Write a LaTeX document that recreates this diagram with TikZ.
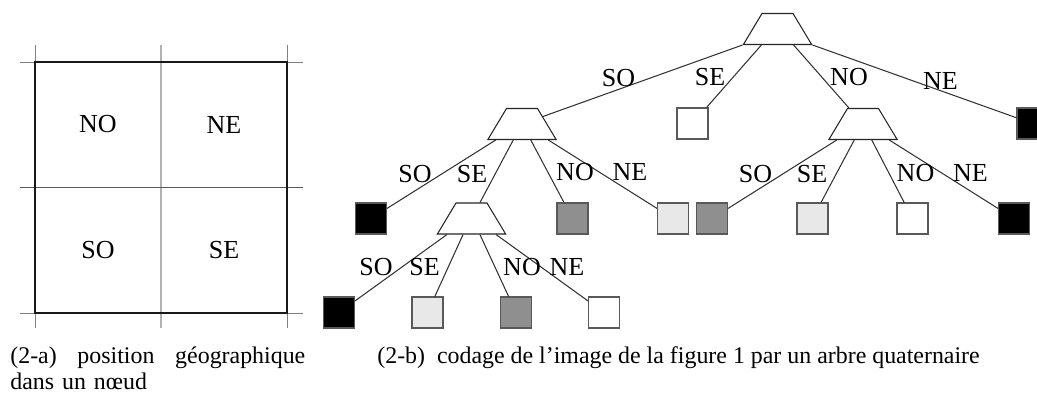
\documentclass[tikz,border=0pt]{standalone}
\usepackage{fontspec}
\setmainfont{Liberation Serif}
\usetikzlibrary{shapes.geometric, positioning, calc}

\definecolor{midgray}{HTML}{8F8F8F}
\definecolor{palegray}{HTML}{E8E8E8}

\begin{document}
\begin{tikzpicture}[x=0.02cm, y=-0.02cm]
		\tikzset{
			lab/.style={font=\fontsize{14.8}{17}\selectfont, inner sep=0pt},
			captxt/.style={font=\fontsize{13.6}{14.7}\selectfont, inner sep=0pt},
			edge/.style={draw=black!80, line width=0.6pt},
			trap/.style={trapezium, draw=black!85, fill=white, line width=0.6pt,
			trapezium left angle=59, trapezium right angle=59,
			minimum width=1.36cm, minimum height=0.62cm, inner sep=1pt},
			leaf/.style={rectangle, draw=black!65, line width=0.6pt, minimum size=0.62cm, inner sep=0pt},
			sqblack/.style={leaf, fill=black},
			sqgray/.style={leaf, fill=midgray},
			sqpale/.style={leaf, fill=palegray},
			sqwhite/.style={leaf, fill=white}
		}
		\useasboundingbox (0,0) rectangle (1037,394);

		% (2-a) quadrants of a node
		\draw[black!50, line width=0.5pt] (35,45) -- (35,328);
		\draw[black!30, line width=0.8pt] (161,45) -- (161,328);
		\draw[black!50, line width=0.5pt] (287,45) -- (287,328);
		\draw[black!50, line width=0.5pt] (20,62) -- (303,62);
		\draw[black!65, line width=0.5pt] (20,187) -- (303,187);
		\draw[black!50, line width=0.5pt] (20,313) -- (303,313);
		\draw[black!90, line width=0.6pt] (35,313) -- (35,62) -- (287,62) -- (287,313) -- cycle;
		\draw[black!90, line width=0.9pt] (35,62) -- (287,62);
		\node[lab](gNO) at (98,124.5){NO};
		\node[lab](gNE) at (224,124.5){NE};
		\node[lab](gSO) at (98,250){SO};
		\node[lab](gSE) at (224,250){SE};

		% (2-b) quadtree
		\node[trap](qRoot) at (777.5,29){};
		\node[trap](qSO) at (522,124){};
		\node[sqwhite](qSE) at (692.5,123.5){};
		\node[trap](qNO) at (863,124){};
		\node[sqblack](qNE) at (1032.5,123.5){};

		\node[sqblack](qSOSO) at (371,218.5){};
		\node[trap](qSOSE) at (471.5,218.5){};
		\node[sqgray](qSONO) at (572.5,218.5){};
		\node[sqpale](qSONE) at (673,218.5){};
		\node[sqgray, right=0.14cm of qSONE](qNOSO){};
		\node[sqpale](qNOSE) at (812.5,218.5){};
		\node[sqwhite](qNONO) at (912.5,218.5){};
		\node[sqblack](qNONE) at (1014,218.5){};

		\node[sqblack](qSESO) at (339,312.5){};
		\node[sqpale](qSESE) at (427.5,312.5){};
		\node[sqgray](qSENO) at (516,312.5){};
		\node[sqwhite](qSENE) at (604,312.5){};

		\draw[edge](qRoot.bottom left corner) -- (qSO);
		\draw[edge]($(qRoot.bottom left corner)!0.27!(qRoot.bottom right corner)$) -- (qSE);
		\draw[edge]($(qRoot.bottom left corner)!0.73!(qRoot.bottom right corner)$) -- (qNO);
		\draw[edge](qRoot.bottom right corner) -- (qNE);

		\draw[edge]($(qSO.bottom left corner)!0.125!(qSO.bottom right corner)$) -- (qSOSO);
		\draw[edge]($(qSO.bottom left corner)!0.375!(qSO.bottom right corner)$) -- (qSOSE);
		\draw[edge]($(qSO.bottom left corner)!0.625!(qSO.bottom right corner)$) -- (qSONO);
		\draw[edge]($(qSO.bottom left corner)!0.875!(qSO.bottom right corner)$) -- (qSONE);

		\draw[edge]($(qNO.bottom left corner)!0.125!(qNO.bottom right corner)$) -- (qNOSO);
		\draw[edge]($(qNO.bottom left corner)!0.375!(qNO.bottom right corner)$) -- (qNOSE);
		\draw[edge]($(qNO.bottom left corner)!0.625!(qNO.bottom right corner)$) -- (qNONO);
		\draw[edge]($(qNO.bottom left corner)!0.875!(qNO.bottom right corner)$) -- (qNONE);

		\draw[edge]($(qSOSE.bottom left corner)!0.15!(qSOSE.bottom right corner)$) -- (qSESO);
		\draw[edge]($(qSOSE.bottom left corner)!0.38!(qSOSE.bottom right corner)$) -- (qSESE);
		\draw[edge]($(qSOSE.bottom left corner)!0.62!(qSOSE.bottom right corner)$) -- (qSENO);
		\draw[edge]($(qSOSE.bottom left corner)!0.85!(qSOSE.bottom right corner)$) -- (qSENE);

		% edge labels
		\node[lab](lRootSO) at (618.5,78){SO};
		\node[lab](lRootSE) at (710,77){SE};
		\node[lab](lRootNO) at (849,77.5){NO};
		\node[lab](lRootNE) at (940.5,81){NE};
		\node[lab](lSOSO) at (415,174){SO};
		\node[lab](lSOSE) at (472,174){SE};
		\node[lab](lSONO) at (575,172){NO};
		\node[lab](lSONE) at (630,172){NE};
		\node[lab](lNOSO) at (755.5,174){SO};
		\node[lab](lNOSE) at (812,174){SE};
		\node[lab](lNONO) at (915.5,173){NO};
		\node[lab](lNONE) at (970.5,173){NE};
		\node[lab](lSESO) at (376,267){SO};
		\node[lab](lSESE) at (424.5,267){SE};
		\node[lab](lSENO) at (522,267){NO};
		\node[lab](lSENE) at (567,267){NE};

		% captions
		\node[captxt, anchor=base west, text width=5.9cm, align=left](capA) at (10,364)
			{(2-a)\hfill position\hfill géographique\\dans un nœud};
		\node[captxt, anchor=base west](capB) at (377,364)
			{(2-b)~~codage de l’image de la figure 1 par un arbre quaternaire};
	\end{tikzpicture}
\end{document}
